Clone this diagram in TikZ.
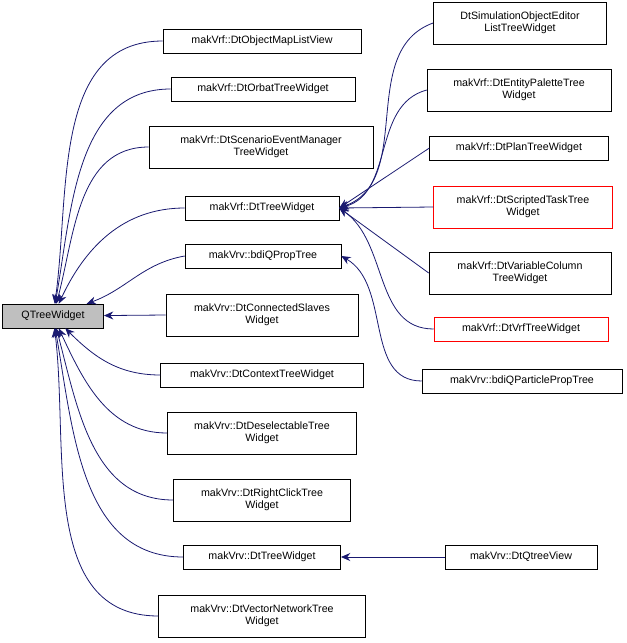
\documentclass[tikz,border=0pt]{standalone}
\usepackage{fontspec}
\setmainfont{Liberation Sans}
\usetikzlibrary{arrows.meta}
\definecolor{edgeNavy}{RGB}{25,25,112}
\definecolor{rootGray}{RGB}{191,191,191}

\begin{document}
\begin{tikzpicture}[x=0.75pt, y=-0.75pt,
    box/.style={draw, fill=white, inner sep=1pt, align=center, minimum height=18pt, font=\fontsize{8}{9}\selectfont},
    tall/.style={box, minimum height=31.5pt},
    edge/.style={<-, >={Stealth[length=7pt,width=6pt]}, draw=edgeNavy, semithick}]
    \useasboundingbox (0,0) rectangle (627,643);
    % base class
    \node[box, fill=rootGray, minimum width=76pt] (q) at (53,316) {QTreeWidget};
    % direct subclasses
    \node[box, minimum width=148.5pt] (objmap) at (262,41) {makVrf::DtObjectMapListView};
    \node[box, minimum width=138pt] (orbat) at (263,89) {makVrf::DtOrbatTreeWidget};
    \node[tall, minimum width=168pt] (scen) at (261,147) {makVrf::DtScenarioEventManager\\TreeWidget};
    \node[box, minimum width=115.5pt] (vrftree) at (262,208) {makVrf::DtTreeWidget};
    \node[box, minimum width=117pt] (bdiprop) at (263,256) {makVrv::bdiQPropTree};
    \node[tall, minimum width=144pt] (slaves) at (262,315) {makVrv::DtConnectedSlaves\\Widget};
    \node[box, minimum width=152pt] (context) at (262,375) {makVrv::DtContextTreeWidget};
    \node[tall, minimum width=142pt] (desel) at (262,433) {makVrv::DtDeselectableTree\\Widget};
    \node[tall, minimum width=133pt] (rclick) at (262,500) {makVrv::DtRightClickTree\\Widget};
    \node[box, minimum width=118pt] (vrvtree) at (262,557) {makVrv::DtTreeWidget};
    \node[tall, minimum width=155pt] (vecnet) at (262,616) {makVrv::DtVectorNetworkTree\\Widget};
    % second level
    \node[tall, minimum width=130pt] (simobj) at (520,23) {DtSimulationObjectEditor\\ListTreeWidget};
    \node[tall, minimum width=138pt] (entity) at (519,90) {makVrf::DtEntityPaletteTree\\Widget};
    \node[box, minimum width=134pt] (plan) at (519,148) {makVrf::DtPlanTreeWidget};
    \node[tall, draw=red, minimum width=134pt] (scripted) at (523,207) {makVrf::DtScriptedTaskTree\\Widget};
    \node[tall, minimum width=136.5pt] (varcol) at (520,273) {makVrf::DtVariableColumn\\TreeWidget};
    \node[box, draw=red, minimum width=130.5pt] (vrfvrf) at (521,329) {makVrf::DtVrfTreeWidget};
    \node[box, minimum width=150pt] (particle) at (522,381) {makVrv::bdiQParticlePropTree};
    \node[box, minimum width=114pt] (qtview) at (521,557) {makVrv::DtQtreeView};
    % edges to the base class
    \draw[edge] (q) to[out=82, in=180] (objmap.west);
    \draw[edge] (q) to[out=80, in=180] (orbat.west);
    \draw[edge] (q) to[out=75, in=180] (scen.west);
    \draw[edge] (q) to[out=65, in=180] (vrftree.west);
    \draw[edge] (q) to[out=20, in=190] (bdiprop.west);
    \draw[edge] (q) -- (slaves.west);
    \draw[edge] (q) to[out=-45, in=180] (context.west);
    \draw[edge] (q) to[out=-65, in=180] (desel.west);
    \draw[edge] (q) to[out=-75, in=180] (rclick.west);
    \draw[edge] (q) to[out=-80, in=180] (vrvtree.west);
    \draw[edge] (q) to[out=-83, in=180] (vecnet.west);
    % edges to makVrf::DtTreeWidget
    \draw[edge] (vrftree.east) to[out=20, in=200] (simobj.west);
    \draw[edge] (vrftree.east) to[out=15, in=195] (entity.west);
    \draw[edge] (vrftree.east) -- (plan.west);
    \draw[edge] (vrftree.east) -- (scripted.west);
    \draw[edge] (vrftree.east) -- (varcol.west);
    \draw[edge] (vrftree.east) to[out=-35, in=180] (vrfvrf.west);
    % other edges
    \draw[edge] (bdiprop.east) to[out=-30, in=180] (particle.west);
    \draw[edge] (vrvtree) -- (qtview);
\end{tikzpicture}
\end{document}
